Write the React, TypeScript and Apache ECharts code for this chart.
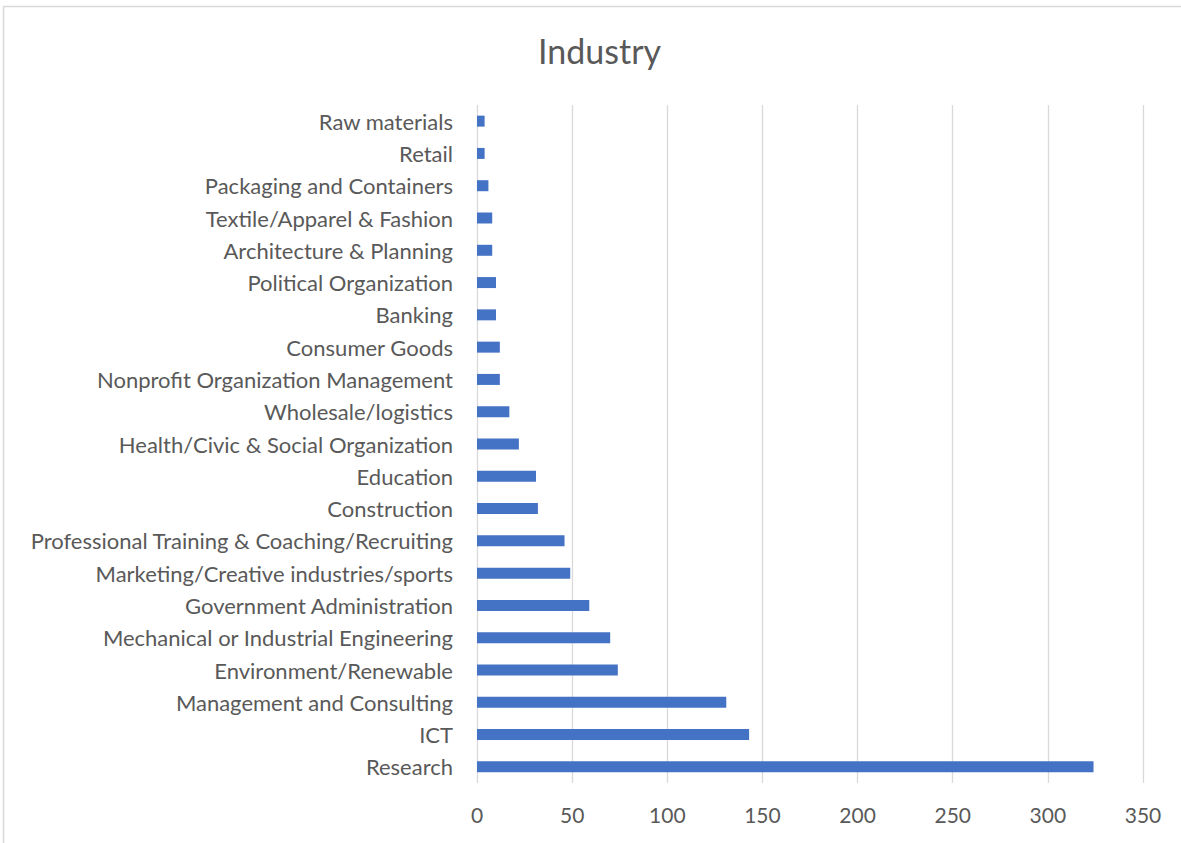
import React, { useEffect, useRef } from "react";
import * as echarts from "echarts";

const categories = [
  "Raw materials",
  "Retail",
  "Packaging and Containers",
  "Textile/Apparel & Fashion",
  "Architecture & Planning",
  "Political Organization",
  "Banking",
  "Consumer Goods",
  "Nonprofit Organization Management",
  "Wholesale/logistics",
  "Health/Civic & Social Organization",
  "Education",
  "Construction",
  "Professional Training & Coaching/Recruiting",
  "Marketing/Creative industries/sports",
  "Government Administration",
  "Mechanical or Industrial Engineering",
  "Environment/Renewable",
  "Management and Consulting",
  "ICT",
  "Research",
];

const counts = [4, 4, 6, 8, 8, 10, 10, 12, 12, 17, 22, 31, 32, 46, 49, 59, 70, 74, 131, 143, 324];

const xTicks = { min: 0, max: 350, interval: 50 };

export default function App() {
  const ref = useRef<HTMLDivElement>(null);
  useEffect(() => {
    document.body.style.margin = "0";
    const chart = echarts.init(ref.current!, null, { renderer: "svg" });
    const font = "Lato, 'Open Sans', sans-serif";
    chart.setOption({
      animation: false,
      backgroundColor: "#ffffff",
      title: {
        text: "Industry",
        left: 538,
        top: 33,
        padding: 0,
        textStyle: { fontFamily: font, fontSize: 34, fontWeight: "normal", color: "#595959" },
      },
      graphic: [
        {
          type: "rect",
          shape: { x: 3.5, y: 6.5, width: 1200, height: 860 },
          style: { fill: "none", stroke: "#d9d9d9", lineWidth: 1.5 },
          silent: true,
        },
      ],
      grid: { left: 477, right: 38, top: 105, bottom: 60, containLabel: false },
      xAxis: {
        type: "value",
        min: xTicks.min,
        max: xTicks.max,
        interval: xTicks.interval,
        axisLine: { show: false },
        axisTick: { show: false },
        axisLabel: { color: "#595959", fontFamily: font, fontSize: 21, margin: 21 },
        splitLine: { show: true, lineStyle: { color: "#d9d9d9", width: 1.3 } },
      },
      yAxis: {
        type: "category",
        data: categories,
        inverse: true,
        axisLine: { show: false },
        axisTick: { show: false },
        axisLabel: { color: "#595959", fontFamily: font, fontSize: 22, margin: 24 },
        splitLine: { show: false },
      },
      series: [
        {
          type: "bar",
          data: counts,
          barWidth: 11,
          itemStyle: { color: "#4472C4" },
        },
      ],
    });
    return () => chart.dispose();
  }, []);
  return <div ref={ref} style={{ width: 1181, height: 843 }} />;
}
